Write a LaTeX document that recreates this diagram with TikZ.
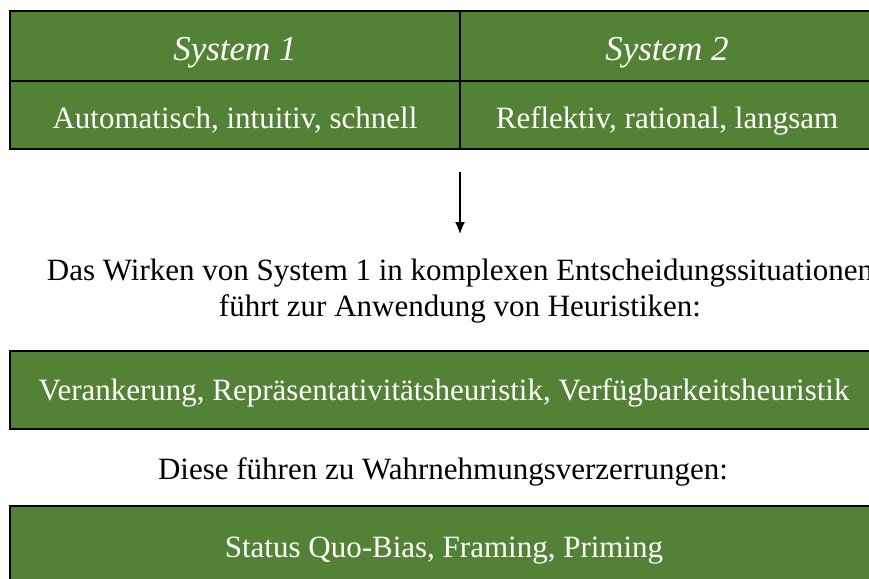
\documentclass[tikz,border=0pt]{standalone}
\usepackage{fontspec}
\setmainfont{Liberation Serif}[Ligatures=TeX]
\usepackage{tikz}
\usetikzlibrary{arrows.meta}
\definecolor{BoxGreen}{HTML}{538135}

\begin{document}
\begin{tikzpicture}[x=1pt, y=-1pt,
      every node/.append style={inner sep=0pt, outer sep=0pt, anchor=center},
      cell/.style={draw=black, line width=1.5pt, fill=BoxGreen, text=white,
        text height=#1, text depth=0pt, font=\fontsize{31}{37}\selectfont},
      head/.style={cell=#1, font=\fontsize{35}{42}\selectfont\itshape}]
    \tikzstyle{plain} = [text=black, align=center, font=\fontsize{31}{36}\selectfont]
    \useasboundingbox (0,0) rectangle (869,578);
    \clip (0,0) rectangle (869,578);
    % table with the two systems
    \node (sys_one) [head=28pt, minimum width=450pt, minimum height=70pt] at (235,46) {System 1};
    \node (sys_two) [head=28pt, minimum width=414pt, minimum height=70pt] at (667,46) {System 2};
    \node (desc_one) [cell=26pt, minimum width=450pt, minimum height=68pt] at (235,115) {Automatisch, intuitiv, schnell};
    \node (desc_two) [cell=26pt, minimum width=414pt, minimum height=68pt] at (667,115) {Reflektiv, rational, langsam};
    \coordinate (arr_top) at (460,172);
    \coordinate (arr_bot) at (460,234);
    \draw[-{Latex[length=12pt,width=10pt]}, line width=1.3pt] (arr_top) -- (arr_bot);
    \node (intro) [plain] at (460,291) {Das Wirken von System 1 in komplexen Entscheidungssituationen\\f\"uhrt zur Anwendung von Heuristiken:};
    \node (heur_box) [cell=20pt, minimum width=868pt, minimum height=78pt] at (444,390) {Verankerung, Repr\"asentativit\"atsheuristik, Verf\"ugbarkeitsheuristik};
    \node (lead) [plain] at (443,472) {Diese f\"uhren zu Wahrnehmungsverzerrungen:};
    \node (bias_box) [cell=18pt, minimum width=868pt, minimum height=84pt] at (444,548) {Status Quo-Bias, Framing, Priming};
  \end{tikzpicture}
\end{document}
